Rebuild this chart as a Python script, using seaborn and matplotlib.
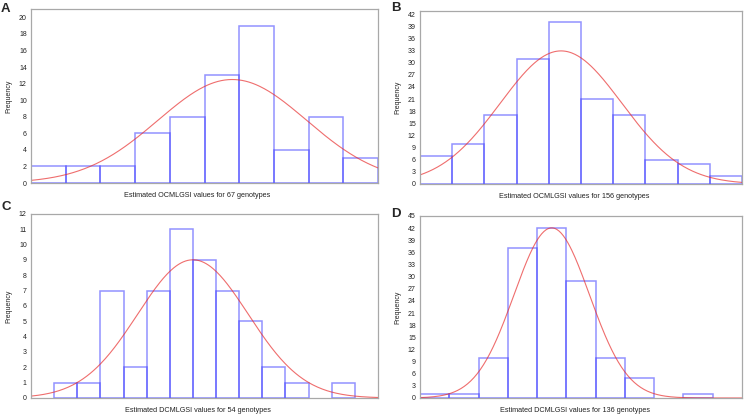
import numpy as np
import pandas as pd
import matplotlib
matplotlib.use("Agg")
import matplotlib.pyplot as plt
import seaborn as sns

# ------------------------- Data -------------------------
# bar counts per bin, x axis in bin units (axis has no tick labels)
counts_a = [2, 2, 2, 6, 8, 13, 19, 4, 8, 3]
counts_b = [7, 10, 17, 31, 40, 21, 17, 6, 5, 2]
counts_c = [0, 1, 1, 7, 2, 7, 11, 9, 7, 5, 2, 1, 0, 1, 0]
counts_d = [1, 1, 10, 37, 42, 29, 10, 5, 0, 1, 0]

# fitted normal curve: mean and sd in bin units
fit_mean = [5.8, 4.38, 7.0, 4.5]
fit_sd = [2.14, 1.89, 2.39, 1.29]

panel_letters = ["A", "B", "C", "D"]
xlabels = [
    "Estimated OCMLGSI values for 67 genotypes",
    "Estimated OCMLGSI values for 156 genotypes",
    "Estimated DCMLGSI values for 54 genotypes",
    "Estimated DCMLGSI values for 136 genotypes",
]
ytick_steps = [2, 3, 1, 3]
ytop = [21, 42.8, 12, 45]

sns.set_style("white")
plt.rcParams['font.family'] = ['Liberation Sans', 'DejaVu Sans']

fig = plt.figure(figsize=(7.44, 4.17), dpi=100)
W, H = 744, 417
# axes boxes in pixels: left, top, right, bottom
boxes = [(31, 9, 378, 183), (420, 11, 742, 184), (31, 214, 378, 398), (420, 216, 742, 398)]
letter_pos = [(1, 12), (391, 11), (1, 210), (391, 217)]

all_counts = [counts_a, counts_b, counts_c, counts_d]

for i, counts in enumerate(all_counts):
    l, t, r, b = boxes[i]
    ax = fig.add_axes([l / W, (H - b) / H, (r - l) / W, (b - t) / H])
    nbins = len(counts)
    df = pd.DataFrame({"value": np.arange(nbins) + 0.5, "count": counts})

    sns.histplot(data=df, x="value", weights="count", binwidth=1, binrange=(0, nbins),
                 fill=False, color="#3a3aff", linewidth=1.1, ax=ax)
    for p in ax.patches:
        p.set_alpha(0.55)
        if p.get_height() == 0:
            p.set_visible(False)

    # normal curve scaled to the bin counts
    n = sum(counts)
    xs = np.linspace(0, nbins, 300)
    ys = n / (fit_sd[i] * np.sqrt(2 * np.pi)) * np.exp(-(xs - fit_mean[i]) ** 2 / (2 * fit_sd[i] ** 2))
    sns.lineplot(x=xs, y=ys, color="#e83030", alpha=0.7, linewidth=0.8, ax=ax)

    ax.set_xlim(0, nbins)
    ax.set_ylim(0, ytop[i])
    ax.set_xticks([])
    step = ytick_steps[i]
    ax.set_yticks(np.arange(0, ytop[i] + 0.01, step))
    ax.tick_params(axis='y', labelsize=5, length=0, pad=3, labelcolor="#222222")
    ax.set_ylabel("Frequency", fontsize=5, labelpad=5, color="#222222")
    ax.set_xlabel(xlabels[i], fontsize=5.2, color="#222222")
    ax.xaxis.set_label_coords(0.48, -9 / (b - t))
    for s in ax.spines.values():
        s.set_color("#a8a8a8")
        s.set_linewidth(0.9)
    ax.spines['bottom'].set_zorder(0.5)

    lx, ly = letter_pos[i]
    fig.text(lx / W, 1 - ly / H, panel_letters[i], fontsize=9.5, fontweight='bold',
             ha='left', va='baseline')

fig.savefig("out.png", dpi=100)
